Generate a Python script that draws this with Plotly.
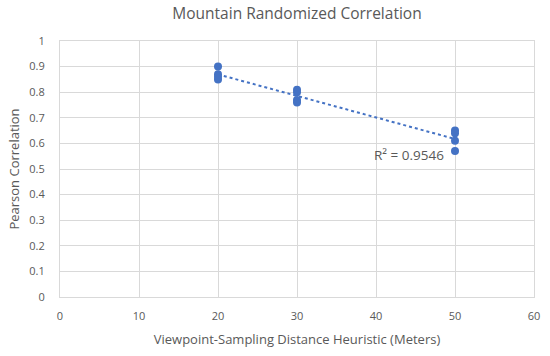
import numpy as np
import plotly.graph_objects as go

distance = [20, 20, 20, 20, 30, 30, 30, 30, 50, 50, 50, 50]
correlation = [0.90, 0.87, 0.86, 0.85, 0.81, 0.80, 0.77, 0.76, 0.65, 0.64, 0.61, 0.57]
r2_label = "R² = 0.9546"
x_ticks = [0, 10, 20, 30, 40, 50, 60]
y_ticks = [0, 0.1, 0.2, 0.3, 0.4, 0.5, 0.6, 0.7, 0.8, 0.9, 1]

blue = "#4472C4"
gray = "#595959"
font = "Open Sans, Liberation Sans, sans-serif"

slope, intercept = np.polyfit(distance, correlation, 1)
tx = [min(distance), max(distance)]
ty = [slope * v + intercept for v in tx]

fig = go.Figure()
fig.add_trace(go.Scatter(x=tx, y=ty, mode="lines",
                         line=dict(color=blue, width=2, dash="dot"),
                         hoverinfo="skip", showlegend=False))
fig.add_trace(go.Scatter(x=distance, y=correlation, mode="markers",
                         marker=dict(color=blue, size=8),
                         showlegend=False))
fig.add_annotation(x=48.9, y=0.555, text=r2_label, showarrow=False,
                   xanchor="right", yanchor="middle",
                   font=dict(family=font, size=13.5, color=gray))

fig.update_layout(
    width=550, height=356,
    margin=dict(l=60, r=16, t=41, b=59, autoexpand=False),
    paper_bgcolor="white", plot_bgcolor="white",
    title=dict(text="Mountain Randomized Correlation", x=0.5, xanchor="center",
               xref="paper", y=0.962, yanchor="middle",
               font=dict(family=font, size=15.5, color=gray)),
    font=dict(family=font, color=gray, size=11),
)
fig.update_xaxes(range=[0, 60], tickvals=x_ticks, showgrid=True,
                 gridcolor="#D9D9D9", gridwidth=1, zeroline=False,
                 showline=True, linecolor="#D9D9D9", mirror=True,
                 ticks="outside", ticklen=9, tickcolor="rgba(0,0,0,0)",
                 automargin=False,
                 title=dict(text="Viewpoint-Sampling Distance Heuristic (Meters)",
                            font=dict(family=font, size=13, color=gray), standoff=12),
                 tickfont=dict(family=font, size=11, color=gray))
fig.update_yaxes(range=[0, 1], tickvals=y_ticks, ticktext=[f"{v:g}" for v in y_ticks],
                 showgrid=True, gridcolor="#D9D9D9", gridwidth=1, zeroline=False,
                 showline=True, linecolor="#D9D9D9", mirror=True,
                 ticks="outside", ticklen=12, tickcolor="rgba(0,0,0,0)",
                 automargin=False,
                 title=dict(text="Pearson Correlation",
                            font=dict(family=font, size=13, color=gray), standoff=6),
                 tickfont=dict(family=font, size=11, color=gray))

fig.write_html("out.html", config={"displayModeBar": False},
               post_script="document.body.style.margin='0';")
